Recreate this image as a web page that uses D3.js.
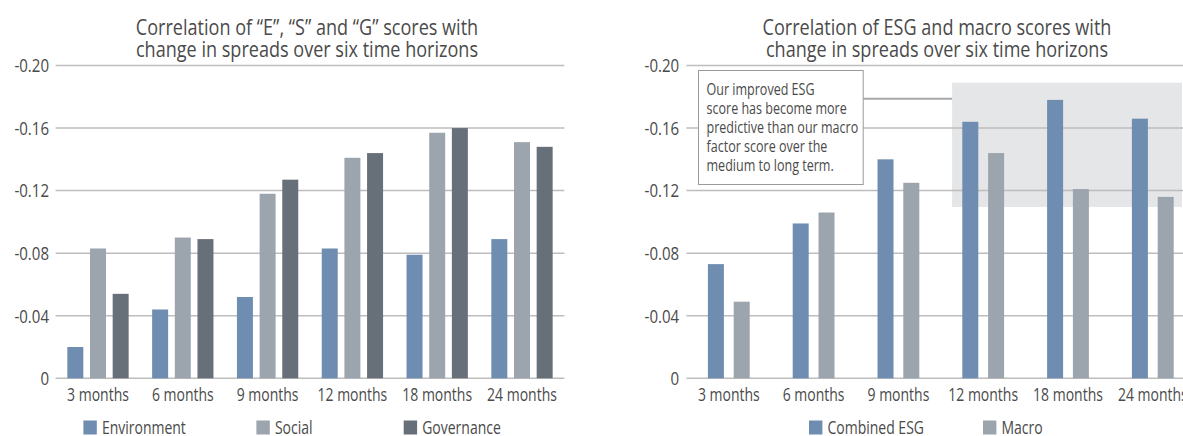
<!DOCTYPE html>
<html>
<head>
<meta charset="utf-8">
<script src="https://cdn.jsdelivr.net/npm/d3@7/dist/d3.min.js"></script>
<style>
  html, body { margin: 0; padding: 0; background: #fff; }
  svg { display: block; }
  text { font-family: "Open Sans", "Noto Sans", sans-serif; fill: #4a4a4a; }
</style>
</head>
<body>
<svg id="chart" width="1183" height="436"></svg>
<script>
// Time horizons shared by both panels
const horizons = ["3 months", "6 months", "9 months", "12 months", "18 months", "24 months"];

// Left panel: individual pillar correlations
const environment = [-0.020, -0.044, -0.052, -0.083, -0.079, -0.089];
const social      = [-0.083, -0.090, -0.118, -0.141, -0.157, -0.151];
const governance  = [-0.054, -0.089, -0.127, -0.144, -0.160, -0.148];

// Right panel: combined ESG vs macro
const combinedESG = [-0.073, -0.099, -0.140, -0.164, -0.178, -0.166];
const macro       = [-0.049, -0.106, -0.125, -0.144, -0.121, -0.116];

// Axis ticks
const yTicks = [0, -0.04, -0.08, -0.12, -0.16, -0.20];

// Highlight band on the right panel (value range) and callout text
const highlightFrom = "12 months";
const highlightRange = [-0.1095, -0.1890];
const calloutLines = [
  "Our improved ESG",
  "score has become more",
  "predictive than our macro",
  "factor score over the",
  "medium to long term."
];

const colors = { blue: "#6f8cb1", grey: "#9ca4ae", dark: "#676f79" };
const gridColor = "#bdbdbd";
const textColor = "#4a4a4a";

// condensed type: horizontal squeeze per text role
const squeeze = sx => `scale(${sx},1)`;
const SX_LABEL = 0.8, SX_TICK = 0.86, SX_TITLE = 0.86, SX_NOTE = 0.76;

const fmt = d3.formatLocale({ decimal: ".", thousands: ",", grouping: [3], currency: ["", ""], minus: "-" }).format(".2f");
const tickFormat = d => d === 0 ? "0" : fmt(d);

const svg = d3.select("#chart");

const y = d3.scaleLinear().domain([0, -0.20]).range([378.3, 65.5]);

function panel(cfg) {
  const g = svg.append("g");
  const x0 = d3.scaleBand().domain(horizons).range(cfg.xRange).paddingInner(0).paddingOuter(0);
  const bw = x0.bandwidth();
  const x1 = d3.scaleBand().domain(cfg.series.map(s => s.name))
    .range([bw / 2 - cfg.spread, bw / 2 + cfg.spread])
    .paddingInner(cfg.pi).paddingOuter(cfg.pi / 2);

  if (cfg.before) cfg.before(g, x0);

  // grid lines
  g.append("g").selectAll("line").data(yTicks).join("line")
    .attr("x1", cfg.xRange[0]).attr("x2", cfg.gridEnd)
    .attr("y1", d => y(d)).attr("y2", d => y(d))
    .attr("stroke", gridColor).attr("stroke-width", 1.5);

  // y axis labels
  const yAxis = d3.axisLeft(y).tickValues(yTicks).tickFormat(tickFormat).tickSize(0).tickPadding(0);
  const ya = g.append("g").attr("transform", `translate(${cfg.labelX},0)`).call(yAxis);
  ya.select(".domain").remove();
  ya.selectAll("text").attr("font-size", 17.5).attr("fill", textColor)
    .style("font-family", "'Open Sans', sans-serif").attr("dy", "0.36em").attr("transform", squeeze(SX_TICK));

  // bars
  const groups = g.append("g").selectAll("g").data(horizons).join("g")
    .attr("transform", d => `translate(${x0(d)},0)`);
  groups.selectAll("rect").data((d, i) => cfg.series.map(s => ({ name: s.name, color: s.color, v: s.values[i] })))
    .join("rect")
    .attr("x", d => x1(d.name)).attr("width", x1.bandwidth())
    .attr("y", d => y(d.v)).attr("height", d => y(0) - y(d.v))
    .attr("fill", d => d.color);

  // x axis labels
  const xAxis = d3.axisBottom(x0).tickSize(0).tickPadding(0);
  const xa = g.append("g").attr("transform", `translate(0,${y(0) + 10})`).call(xAxis);
  xa.select(".domain").remove();
  xa.selectAll("text").attr("font-size", 17.5).attr("fill", textColor)
    .style("font-family", "'Open Sans', sans-serif").attr("dy", "0.71em").attr("transform", squeeze(SX_LABEL));

  // title
  const t = g.append("text").attr("text-anchor", "middle").attr("font-size", 21).attr("fill", "#555")
    .attr("transform", `translate(${cfg.titleX},0) ${squeeze(SX_TITLE)}`);
  cfg.title.forEach((line, i) => t.append("tspan").attr("x", 0).attr("y", 35.5 + i * 22).text(line));

  // legend
  const lg = g.append("g");
  cfg.series.forEach((s, i) => {
    lg.append("rect").attr("x", cfg.legendX[i]).attr("y", 420.5).attr("width", 13.4).attr("height", 14).attr("fill", s.color);
    lg.append("text").attr("transform", `translate(${cfg.legendX[i] + 18.5},434) ${squeeze(SX_LABEL)}`)
      .attr("font-size", 17.5).attr("fill", textColor).text(s.name);
  });
  return { g, x0 };
}

panel({
  xRange: [55.6, 564.4], gridEnd: 564.4, labelX: 49,
  spread: 34, pi: 0.295,
  series: [
    { name: "Environment", color: colors.blue, values: environment },
    { name: "Social", color: colors.grey, values: social },
    { name: "Governance", color: colors.dark, values: governance }
  ],
  title: ["Correlation of \u201CE\u201D, \u201CS\u201D and \u201CG\u201D scores with", "change in spreads over six time horizons"],
  titleX: 307,
  legendX: [83.4, 256.4, 403.7]
});

panel({
  xRange: [686.4, 1195.2], gridEnd: 1183, labelX: 679.2,
  spread: 25.8, pi: 0.38,
  series: [
    { name: "Combined ESG", color: colors.blue, values: combinedESG },
    { name: "Macro", color: colors.grey, values: macro }
  ],
  title: ["Correlation of ESG and macro scores with", "change in spreads over six time horizons"],
  titleX: 937,
  legendX: [809, 983],
  before: (g, x0) => {
    // shaded highlight behind the longer horizons
    const hx = x0(highlightFrom) + 11.3;
    g.append("rect").attr("x", hx).attr("width", 1182 - hx)
      .attr("y", y(highlightRange[1])).attr("height", y(highlightRange[0]) - y(highlightRange[1]))
      .attr("fill", "#e5e6e8");
  }
}).g.call(g => {
  // callout box with leader line to the highlight band
  const bx = 698.5, by = 70.5, bw = 164.7, bh = 114;
  g.append("line").attr("x1", bx + bw).attr("x2", 952.1).attr("y1", 98.7).attr("y2", 98.7)
    .attr("stroke", "#a9a9a9").attr("stroke-width", 2);
  g.append("rect").attr("x", bx).attr("y", by).attr("width", bw).attr("height", bh)
    .attr("fill", "#fff").attr("stroke", "#9a9a9a").attr("stroke-width", 1);
  const ct = g.append("text").attr("font-size", 16.5).attr("fill", textColor)
    .attr("transform", `translate(${bx + 8},0) ${squeeze(SX_NOTE)}`);
  calloutLines.forEach((line, i) => ct.append("tspan").attr("x", 0).attr("y", 95 + i * 19.1).text(line));
});
</script>
</body>
</html>
